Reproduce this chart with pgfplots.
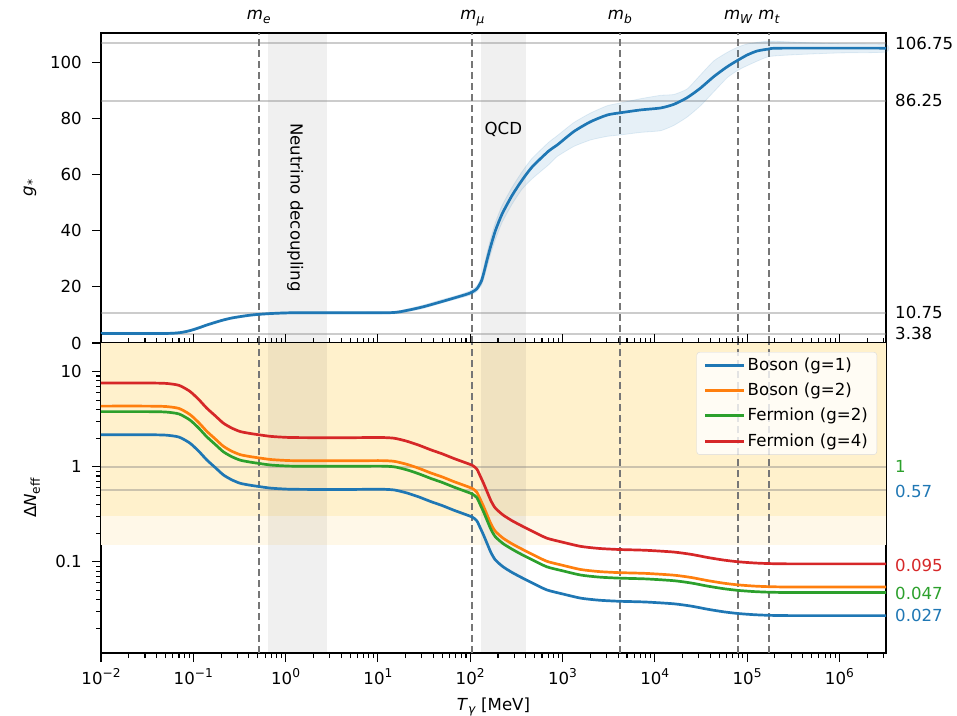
\documentclass[border=0pt]{standalone}
\usepackage{fontspec}
\setmainfont{DejaVu Sans}
\usepackage{pgfplots}
\pgfplotsset{compat=1.18}
\definecolor{tabblue}{HTML}{1F77B4}
\definecolor{taborange}{HTML}{FF7F0E}
\definecolor{tabgreen}{HTML}{2CA02C}
\definecolor{tabred}{HTML}{D62728}
\definecolor{yellowD}{RGB}{255,241,204}
\definecolor{yellowL}{RGB}{255,248,232}
\definecolor{vline}{RGB}{118,118,118}
\newcommand{\fs}{\fontsize{16.6}{19.9}\selectfont}
\newcommand{\ssub}[1]{\raisebox{-0.22em}{\fontsize{12.2}{12}\selectfont #1}}
\newcommand{\ssup}[1]{\raisebox{0.42em}{\fontsize{12.2}{12}\selectfont #1}}
\newcommand{\ml}[1]{\textit{m}\ssub{\textit{#1}}}
\begin{document}
\fs
\begin{tikzpicture}
% ---------------- top axis ----------------
\begin{axis}[scale only axis, width=785pt, height=310pt,
  xmode=log, xmin=1e-2, xmax=3.2e6, clip=false,
  at={(101pt,372pt)}, anchor=south west,
  axis line style={line width=1.3pt, black},
  major tick length=9pt, minor tick length=5pt,
  tick style={black, line width=1.1pt},
  tick align=outside,
  label style={font=\fs},
  xtick=\empty, ytick pos=left,
  ymin=0, ymax=110.4,
  ytick={0,20,40,60,80,100}, yticklabels={},
  ylabel={\textit{g}\ssub{*}},
  ylabel style={at={(rel axis cs:0,0.5)}, anchor=center, yshift=71pt}]
\fill[black, opacity=0.06] (axis cs:0.65,0) rectangle (axis cs:2.8,110.4);
\fill[black, opacity=0.06] (axis cs:130,0) rectangle (axis cs:400,110.4);
\addplot[forget plot, gray, opacity=0.4, line width=2pt] coordinates {(1e-2,106.75) (3.2e6,106.75)};
\addplot[forget plot, gray, opacity=0.4, line width=2pt] coordinates {(1e-2,86.25) (3.2e6,86.25)};
\addplot[forget plot, gray, opacity=0.4, line width=2pt] coordinates {(1e-2,10.75) (3.2e6,10.75)};
\addplot[forget plot, gray, opacity=0.4, line width=2pt] coordinates {(1e-2,3.38) (3.2e6,3.38)};
\addplot[forget plot, vline, line width=2pt, dash pattern=on 7pt off 4pt] coordinates {(0.511,0) (0.511,110.4)};
\addplot[forget plot, vline, line width=2pt, dash pattern=on 7pt off 4pt] coordinates {(105.7,0) (105.7,110.4)};
\addplot[forget plot, vline, line width=2pt, dash pattern=on 7pt off 4pt] coordinates {(4180,0) (4180,110.4)};
\addplot[forget plot, vline, line width=2pt, dash pattern=on 7pt off 4pt] coordinates {(80400,0) (80400,110.4)};
\addplot[forget plot, vline, line width=2pt, dash pattern=on 7pt off 4pt] coordinates {(173000,0) (173000,110.4)};
% uncertainty band
\addplot[forget plot, fill=tabblue, fill opacity=0.11, draw=tabblue, draw opacity=0.12, line width=0.8pt, smooth, tension=0.3] coordinates {
(0.01,3.8) (0.05,3.8) (0.072,4.1) (0.092,4.8) (0.14,6.8) (0.212,8.6) (0.322,9.8) (0.51,10.6) (1.12,11.15) (13.6,11.2) (20.6,12.1) (31,13.5) (47.5,15.3) (75,17.1) (100,18.6) (118,20.3) (132,23.5) (140,26.8) (152,32) (166,37) (188,43) (222,49) (285,55.5) (365,61) (469,65.8) (710,71.5) (875,73.8) (1327,78.5) (2013,81.9) (3054,84.5) (4260,85.5) (7020,87) (11560,88.2) (16100,88.5) (22500,90.5) (31300,95.5) (43700,100.5) (61000,103.5) (78500,105.3) (100700,106.5) (173000,107.5) (400000,107) (1e6,106.6) (3.2e6,106.3)
(3.2e6,103.6) (1e6,103.3) (400000,102.8) (173000,102) (100700,98.8) (78500,97) (61000,94.5) (43700,89.5) (31300,84.5) (22500,80.5) (16100,77.5) (11560,75.6) (7020,75) (4260,74.1) (3054,73.6) (2013,72.3) (1327,70) (875,66.4) (710,63.5) (469,58.5) (365,54.8) (285,49.5) (222,43) (188,37) (166,31.5) (152,27) (140,22.8) (132,20.5) (118,18.3) (100,17.0) (75,15.9) (47.5,14.1) (31,12.3) (20.6,11.1) (13.6,10.4) (1.12,10.35) (0.51,9.8) (0.322,9.0) (0.212,7.8) (0.14,6.0) (0.092,4.0) (0.072,3.3) (0.05,3.0) (0.01,3.0)};
\addplot[forget plot, tabblue, line width=2.7pt, smooth, tension=0.4] coordinates {
(0.01,3.38) (0.05,3.4) (0.072,3.7) (0.092,4.4) (0.115,5.4) (0.14,6.4) (0.175,7.4) (0.212,8.2) (0.26,8.9) (0.322,9.4) (0.41,9.9) (0.51,10.2) (0.7,10.5) (1.12,10.75) (3,10.8) (13.6,10.8) (20.6,11.6) (31,12.9) (47.5,14.6) (75,16.5) (100,17.8) (118,19.3) (132,22) (140,24.8) (152,29.5) (166,34.2) (188,40.1) (222,46.0) (285,52.6) (365,58.0) (469,62.7) (710,68.4) (875,70.5) (1327,75.3) (2013,78.8) (3054,81.2) (4260,82.0) (7020,83.0) (11560,83.7) (16100,85.0) (22500,87.4) (31300,90.8) (43700,94.9) (61000,98.4) (78500,100.6) (100700,102.6) (129000,104.0) (172700,104.7) (231000,105.0) (3.2e6,105.0)};
\node[rotate=-90] at (axis cs:1.27,48.3) {Neutrino decoupling};
\node at (axis cs:229,75.9) {QCD};
% y tick labels
\node[anchor=east, inner sep=0pt, xshift=-19pt] at (axis cs:1e-2,0) {0};
\node[anchor=east, inner sep=0pt, xshift=-19pt] at (axis cs:1e-2,20) {20};
\node[anchor=east, inner sep=0pt, xshift=-19pt] at (axis cs:1e-2,40) {40};
\node[anchor=east, inner sep=0pt, xshift=-19pt] at (axis cs:1e-2,60) {60};
\node[anchor=east, inner sep=0pt, xshift=-19pt] at (axis cs:1e-2,80) {80};
\node[anchor=east, inner sep=0pt, xshift=-19pt] at (axis cs:1e-2,100) {100};
% right labels
\node[anchor=west, inner sep=0pt, xshift=9pt] at (axis cs:3.2e6,106.75) {106.75};
\node[anchor=west, inner sep=0pt, xshift=9pt] at (axis cs:3.2e6,86.25) {86.25};
\node[anchor=west, inner sep=0pt, xshift=9pt] at (axis cs:3.2e6,10.75) {10.75};
\node[anchor=west, inner sep=0pt, xshift=9pt] at (axis cs:3.2e6,3.38) {3.38};
\node[anchor=base, yshift=13pt] at (axis cs:0.511,110.4) {\ml{e}};
\node[anchor=base, yshift=13pt] at (axis cs:105.7,110.4) {\ml{μ}};
\node[anchor=base, yshift=13pt] at (axis cs:4180,110.4) {\ml{b}};
\node[anchor=base, yshift=13pt] at (axis cs:80400,110.4) {\ml{W}};
\node[anchor=base, yshift=13pt] at (axis cs:173000,110.4) {\ml{t}};
\end{axis}
% ---------------- bottom axis ----------------
\begin{axis}[scale only axis, width=785pt, height=310pt,
  xmode=log, xmin=1e-2, xmax=3.2e6, clip=false,
  at={(101pt,62pt)}, anchor=south west,
  axis line style={line width=1.3pt, black},
  major tick length=9pt, minor tick length=5pt,
  tick style={black, line width=1.1pt},
  tick align=outside,
  label style={font=\fs},
  xtick={1e-2,1e-1,1,10,100,1e3,1e4,1e5,1e6},
  minor xtick={2e-2,3e-2,4e-2,5e-2,6e-2,7e-2,8e-2,9e-2,
      2e-1,3e-1,4e-1,5e-1,6e-1,7e-1,8e-1,9e-1,
      2,3,4,5,6,7,8,9,20,30,40,50,60,70,80,90,
      200,300,400,500,600,700,800,900,
      2000,3000,4000,5000,6000,7000,8000,9000,
      2e4,3e4,4e4,5e4,6e4,7e4,8e4,9e4,
      2e5,3e5,4e5,5e5,6e5,7e5,8e5,9e5,2e6,3e6},
  xtick pos=both, ytick pos=left,
  ymode=log, ymin=0.011, ymax=20,
  ytick={0.1,1,10}, yticklabels={},
  minor ytick={0.02,0.03,0.04,0.05,0.06,0.07,0.08,0.09,0.2,0.3,0.4,0.5,0.6,0.7,0.8,0.9,2,3,4,5,6,7,8,9},
  xticklabels={},
  xlabel={\textit{T}\ssub{\textit{γ}} [MeV]},
  xlabel style={at={(rel axis cs:0.5,0)}, anchor=base, yshift=-57pt},
  ylabel={Δ\textit{N}\ssub{eff}},
  ylabel style={at={(rel axis cs:0,0.5)}, anchor=center, yshift=69pt},
  legend style={at={(rel axis cs:1,1)}, anchor=north east, xshift=-9pt, yshift=-9pt,
    draw=black!15, fill=white, fill opacity=0.8, text opacity=1, rounded corners=3pt,
    inner xsep=7pt, inner ysep=4pt, row sep=6pt, font=\fs},
  legend cell align=left,
  legend image code/.code={\draw[#1, line width=3pt] (0pt,0pt) -- (39pt,0pt);}]
\fill[yellowD] (axis cs:1e-2,0.3) rectangle (axis cs:3.2e6,20);
\fill[yellowL] (axis cs:1e-2,0.15) rectangle (axis cs:3.2e6,0.3);
\fill[black, opacity=0.06] (axis cs:0.65,0.011) rectangle (axis cs:2.8,20);
\fill[black, opacity=0.06] (axis cs:130,0.011) rectangle (axis cs:400,20);
\addplot[forget plot, gray, opacity=0.4, line width=2pt] coordinates {(1e-2,1) (3.2e6,1)};
\addplot[forget plot, gray, opacity=0.4, line width=2pt] coordinates {(1e-2,0.57) (3.2e6,0.57)};
\addplot[forget plot, vline, line width=2pt, dash pattern=on 7pt off 4pt] coordinates {(0.511,0.011) (0.511,20)};
\addplot[forget plot, vline, line width=2pt, dash pattern=on 7pt off 4pt] coordinates {(105.7,0.011) (105.7,20)};
\addplot[forget plot, vline, line width=2pt, dash pattern=on 7pt off 4pt] coordinates {(4180,0.011) (4180,20)};
\addplot[forget plot, vline, line width=2pt, dash pattern=on 7pt off 4pt] coordinates {(80400,0.011) (80400,20)};
\addplot[forget plot, vline, line width=2pt, dash pattern=on 7pt off 4pt] coordinates {(173000,0.011) (173000,20)};
% Boson g=1
\addplot[tabblue, line width=2.7pt, smooth, tension=0.4] coordinates {
(0.01,2.17) (0.03,2.17) (0.05,2.15) (0.07,2.05) (0.092,1.77) (0.115,1.45) (0.14,1.18) (0.175,0.97) (0.212,0.82) (0.26,0.73) (0.322,0.67) (0.41,0.64) (0.51,0.62) (0.7,0.595) (1.12,0.58) (2.4,0.577) (5,0.577) (10.6,0.58) (15,0.57) (20.6,0.53) (28,0.48) (37.5,0.43) (50,0.39) (66,0.35) (85,0.32) (105.7,0.295) (118,0.27) (129,0.226) (140,0.19) (152,0.157) (168,0.125) (187,0.105) (226,0.089) (280,0.078) (344,0.070) (470,0.060) (676,0.0507) (1000,0.046) (1580,0.0415) (2500,0.0395) (4120,0.0385) (8000,0.0378) (16100,0.0362) (25000,0.0342) (37000,0.0318) (56000,0.0298) (80400,0.0286) (120000,0.0278) (173000,0.0274) (300000,0.0272) (3.2e6,0.0272)};
\addlegendentry{Boson (g=1)}
% Boson g=2
\addplot[taborange, line width=2.7pt, smooth, tension=0.4] coordinates {
(0.01,4.34) (0.03,4.34) (0.05,4.30) (0.07,4.10) (0.092,3.54) (0.115,2.90) (0.14,2.36) (0.175,1.94) (0.212,1.64) (0.26,1.46) (0.322,1.34) (0.41,1.28) (0.51,1.24) (0.7,1.19) (1.12,1.16) (2.4,1.154) (5,1.154) (10.6,1.16) (15,1.14) (20.6,1.06) (28,0.96) (37.5,0.86) (50,0.78) (66,0.70) (85,0.64) (105.7,0.59) (118,0.54) (129,0.452) (140,0.38) (152,0.314) (168,0.25) (187,0.21) (226,0.178) (280,0.156) (344,0.14) (470,0.12) (676,0.1014) (1000,0.092) (1580,0.083) (2500,0.079) (4120,0.077) (8000,0.0756) (16100,0.0724) (25000,0.0684) (37000,0.0636) (56000,0.0596) (80400,0.0572) (120000,0.0556) (173000,0.0548) (300000,0.0544) (3.2e6,0.0544)};
\addlegendentry{Boson (g=2)}
% Fermion g=2
\addplot[tabgreen, line width=2.7pt, smooth, tension=0.4] coordinates {
(0.01,3.798) (0.03,3.798) (0.05,3.763) (0.07,3.588) (0.092,3.098) (0.115,2.538) (0.14,2.065) (0.175,1.698) (0.212,1.435) (0.26,1.278) (0.322,1.173) (0.41,1.12) (0.51,1.085) (0.7,1.041) (1.12,1.015) (2.4,1.01) (5,1.01) (10.6,1.015) (15,0.998) (20.6,0.928) (28,0.84) (37.5,0.753) (50,0.683) (66,0.613) (85,0.56) (105.7,0.516) (118,0.473) (129,0.396) (140,0.333) (152,0.275) (168,0.219) (187,0.184) (226,0.156) (280,0.137) (344,0.1225) (470,0.105) (676,0.0887) (1000,0.0805) (1580,0.0726) (2500,0.0691) (4120,0.0674) (8000,0.06615) (16100,0.06335) (25000,0.05985) (37000,0.05565) (56000,0.05215) (80400,0.05005) (120000,0.04865) (173000,0.04795) (300000,0.0476) (3.2e6,0.0476)};
\addlegendentry{Fermion (g=2)}
% Fermion g=4
\addplot[tabred, line width=2.7pt, smooth, tension=0.4] coordinates {
(0.01,7.595) (0.03,7.595) (0.05,7.525) (0.07,7.175) (0.092,6.195) (0.115,5.075) (0.14,4.13) (0.175,3.395) (0.212,2.87) (0.26,2.555) (0.322,2.345) (0.41,2.24) (0.51,2.17) (0.7,2.083) (1.12,2.03) (2.4,2.02) (5,2.02) (10.6,2.03) (15,1.995) (20.6,1.855) (28,1.68) (37.5,1.505) (50,1.365) (66,1.225) (85,1.12) (105.7,1.033) (118,0.945) (129,0.791) (140,0.665) (152,0.55) (168,0.438) (187,0.368) (226,0.312) (280,0.273) (344,0.245) (470,0.21) (676,0.1775) (1000,0.161) (1580,0.1453) (2500,0.1383) (4120,0.1348) (8000,0.1323) (16100,0.1267) (25000,0.1197) (37000,0.1113) (56000,0.1043) (80400,0.1001) (120000,0.0973) (173000,0.0959) (300000,0.0952) (3.2e6,0.0952)};
\addlegendentry{Fermion (g=4)}
% y tick labels
\node[anchor=east, inner sep=0pt, xshift=-19pt] at (axis cs:1e-2,0.1) {0.1};
\node[anchor=east, inner sep=0pt, xshift=-19pt] at (axis cs:1e-2,1) {1};
\node[anchor=east, inner sep=0pt, xshift=-19pt] at (axis cs:1e-2,10) {10};
% x tick labels
\node[anchor=base, inner sep=0pt, yshift=-31pt] at (axis cs:1e-2,0.011) {10\ssup{−2}};
\node[anchor=base, inner sep=0pt, yshift=-31pt] at (axis cs:1e-1,0.011) {10\ssup{−1}};
\node[anchor=base, inner sep=0pt, yshift=-31pt] at (axis cs:1,0.011) {10\ssup{0}};
\node[anchor=base, inner sep=0pt, yshift=-31pt] at (axis cs:10,0.011) {10\ssup{1}};
\node[anchor=base, inner sep=0pt, yshift=-31pt] at (axis cs:100,0.011) {10\ssup{2}};
\node[anchor=base, inner sep=0pt, yshift=-31pt] at (axis cs:1e3,0.011) {10\ssup{3}};
\node[anchor=base, inner sep=0pt, yshift=-31pt] at (axis cs:1e4,0.011) {10\ssup{4}};
\node[anchor=base, inner sep=0pt, yshift=-31pt] at (axis cs:1e5,0.011) {10\ssup{5}};
\node[anchor=base, inner sep=0pt, yshift=-31pt] at (axis cs:1e6,0.011) {10\ssup{6}};
% right labels
\node[anchor=west, inner sep=0pt, xshift=9pt, text=tabgreen] at (axis cs:3.2e6,1) {1};
\node[anchor=west, inner sep=0pt, xshift=9pt, text=tabblue] at (axis cs:3.2e6,0.55) {0.57};
\node[anchor=west, inner sep=0pt, xshift=9pt, text=tabred] at (axis cs:3.2e6,0.092) {0.095};
\node[anchor=west, inner sep=0pt, xshift=9pt, text=tabgreen] at (axis cs:3.2e6,0.046) {0.047};
\node[anchor=west, inner sep=0pt, xshift=9pt, text=tabblue] at (axis cs:3.2e6,0.027) {0.027};
\end{axis}
\pgfresetboundingbox
\path[use as bounding box] (0,0) rectangle (957pt,715pt);
\end{tikzpicture}
\end{document}
